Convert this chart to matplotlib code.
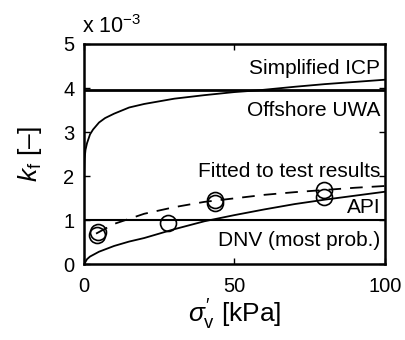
import matplotlib
matplotlib.use("Agg")
import matplotlib.pyplot as plt

plt.rcParams['font.family'] = ['Liberation Sans', 'DejaVu Sans']
plt.rcParams['mathtext.fontset'] = 'custom'
plt.rcParams['mathtext.rm'] = 'Liberation Sans'
plt.rcParams['mathtext.it'] = 'Liberation Sans:italic'
plt.rcParams['mathtext.fallback'] = 'cm'

# values of k_f in units of 1e-3
icp_sigma = [0.05, 0.2, 0.5, 1, 2, 3, 5, 7, 10, 15, 20, 30, 40, 50, 58, 70, 80, 90, 100]
icp_kf = [2.1, 2.4, 2.6, 2.75, 2.95, 3.06, 3.22, 3.32, 3.42, 3.56, 3.64, 3.76, 3.84, 3.91, 3.95, 4.03, 4.09, 4.14, 4.19]

uwa_kf = 3.95
dnv_kf = 1.0

api_sigma = [0, 1, 2, 5, 10, 15, 20, 30, 40, 50, 60, 70, 80, 90, 100]
api_kf = [0.0, 0.12, 0.18, 0.29, 0.42, 0.52, 0.6, 0.8, 0.98, 1.12, 1.25, 1.37, 1.47, 1.56, 1.65]

fit_sigma = [4, 10, 20, 30, 40, 50, 60, 70, 80, 90, 100]
fit_kf = [0.70, 0.92, 1.15, 1.30, 1.42, 1.50, 1.58, 1.64, 1.69, 1.74, 1.78]

test_sigma = [4.4, 4.8, 28, 43.6, 43.6, 79.6, 79.8]
test_kf = [0.67, 0.74, 0.95, 1.46, 1.39, 1.69, 1.54]

labels = ["Simplified ICP", "Offshore UWA", "Fitted to test results", "API", "DNV (most prob.)"]
label_y = [4.45, 3.5, 2.1, 1.3, 0.55]

fig = plt.figure(figsize=(4.05, 3.4), dpi=100)
ax = fig.add_axes([0.2074, 0.2221, 0.7432, 0.6485])

ax.plot(icp_sigma, icp_kf, color='black', lw=1.3)
ax.axhline(uwa_kf, color='black', lw=2.0)
ax.axhline(dnv_kf, color='black', lw=1.5)
ax.plot(api_sigma, api_kf, color='black', lw=1.3)
ax.plot(fit_sigma, fit_kf, color='black', lw=1.3, dashes=(7, 5))
ax.plot(test_sigma, test_kf, linestyle='none', marker='o', markersize=11.5,
        markerfacecolor='none', markeredgecolor='black', markeredgewidth=1.2)

for t, yv in zip(labels, label_y):
    ax.text(98.5, yv, t, ha='right', va='center', fontsize=15)

ax.set_xlim(0, 100)
ax.set_ylim(0, 5)
ax.set_xticks([0, 50, 100])
ax.set_yticks([0, 1, 2, 3, 4, 5])
ax.tick_params(direction='in', labelsize=14.5, top=True, right=True, width=1, length=4)
ax.tick_params(axis='x', pad=9)
ax.tick_params(axis='y', pad=7)
for s in ax.spines.values():
    s.set_linewidth(1.8)

ax.set_xlabel(r"$\sigma^{\prime}_{\mathregular{v}}$ [kPa]", fontsize=19, labelpad=1)
ax.set_ylabel(r"$k_{\mathregular{f}}$ [–]", fontsize=19, labelpad=14)

fig.text(82 / 405, 1 - 27 / 340, r"x 10$^{\mathregular{-3}}$", fontsize=15.5, ha='left', va='center')

fig.savefig("out.png", dpi=100)
